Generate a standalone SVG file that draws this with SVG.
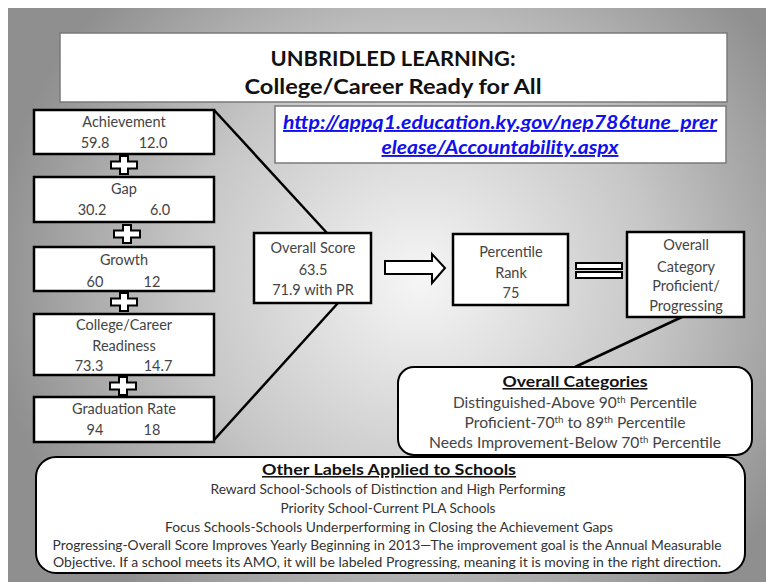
<svg xmlns="http://www.w3.org/2000/svg" width="766" height="582" viewBox="0 0 766 582">
<defs>
<radialGradient id="bg" gradientUnits="userSpaceOnUse" cx="420" cy="280" r="430" gradientTransform="translate(420 280) scale(1 0.95) translate(-420 -280)">
<stop offset="0" stop-color="#f6f6f6"/>
<stop offset="0.55" stop-color="#c6c6c6"/>
<stop offset="1" stop-color="#8f8f8f"/>
</radialGradient>
<path id="plus" d="M-4,-9 H4 V-3.5 H13 V3.5 H4 V9 H-4 V3.5 H-13 V-3.5 H-4 Z"/>
</defs>
<style>
.box{fill:#fff;stroke:#000;stroke-width:2.5}
.thin{fill:#fff;stroke:#7a7a7a;stroke-width:1.5}
.rbox{fill:#fff;stroke:#000;stroke-width:2}
.t{font-family:Lato,"Liberation Sans",sans-serif;font-size:14.5px;fill:#444;text-anchor:middle}
.s{font-family:Lato,"Liberation Sans",sans-serif;font-size:13px;fill:#333;text-anchor:middle}
.h{font-family:Lato,"Liberation Sans",sans-serif;font-weight:bold;fill:#111;text-anchor:middle}
.u{text-decoration:underline}
.url{font-family:Lato,"Liberation Sans",sans-serif;font-weight:bold;font-style:italic;font-size:19px;fill:#1010ee;text-anchor:middle;text-decoration:underline}
.ln{stroke:#000;stroke-width:2.5;fill:none}
.pl{fill:#fff;stroke:#000;stroke-width:2}
.sup{font-size:9px}
</style>
<rect x="8" y="8" width="758" height="574" fill="url(#bg)"/>

<g id="connectors">
<line class="ln" x1="214" y1="110" x2="327" y2="233"/>
<line class="ln" x1="338" y1="303" x2="214" y2="440"/>
<line class="ln" x1="682" y1="317" x2="575" y2="367"/>
<path class="pl" d="M385,261 H432 V254 L445,268 L432,283 V274 H385 Z"/>
<rect class="pl" x="576" y="263" width="46" height="6"/>
<rect class="pl" x="576" y="272" width="46" height="6"/>
<use href="#plus" class="pl" x="124" y="165"/>
<use href="#plus" class="pl" x="127" y="234"/>
<use href="#plus" class="pl" x="124" y="302"/>
<use href="#plus" class="pl" x="123" y="386"/>
</g>

<g id="title">
<rect class="thin" x="60" y="33" width="667" height="69"/>
<text class="h" x="393" y="66" font-size="21" textLength="245" lengthAdjust="spacingAndGlyphs">UNBRIDLED LEARNING:</text>
<text class="h" x="393" y="94" font-size="21" textLength="297" lengthAdjust="spacingAndGlyphs">College/Career Ready for All</text>
</g>

<g id="url">
<rect class="thin" x="275" y="106" width="451" height="57"/>
<text class="url" x="500" y="129" textLength="434" lengthAdjust="spacingAndGlyphs">http://appq1.education.ky.gov/nep786tune_prer</text>
<text class="url" x="500" y="154" textLength="237" lengthAdjust="spacingAndGlyphs">elease/Accountability.aspx</text>
</g>

<g id="achievement">
<rect class="box" x="34" y="110" width="180" height="44"/>
<text class="t" x="124" y="127">Achievement</text>
<text class="t" x="95" y="148">59.8</text>
<text class="t" x="153" y="148">12.0</text>
</g>

<g id="gap">
<rect class="box" x="34" y="177" width="180" height="45"/>
<text class="t" x="124" y="194">Gap</text>
<text class="t" x="92" y="215">30.2</text>
<text class="t" x="160" y="215">6.0</text>
</g>

<g id="growth">
<rect class="box" x="34" y="247" width="180" height="44"/>
<text class="t" x="124" y="265">Growth</text>
<text class="t" x="95" y="287">60</text>
<text class="t" x="152" y="287">12</text>
</g>

<g id="ccr">
<rect class="box" x="34" y="314" width="180" height="61"/>
<text class="t" x="124" y="330">College/Career</text>
<text class="t" x="124" y="351">Readiness</text>
<text class="t" x="89" y="371">73.3</text>
<text class="t" x="158" y="371">14.7</text>
</g>

<g id="graduation">
<rect class="box" x="34" y="397" width="180" height="45"/>
<text class="t" x="124" y="414">Graduation Rate</text>
<text class="t" x="95" y="435">94</text>
<text class="t" x="152" y="435">18</text>
</g>

<g id="overall-score">
<rect class="box" x="254" y="233" width="117" height="70"/>
<text class="t" x="313" y="253">Overall Score</text>
<text class="t" x="313" y="275">63.5</text>
<text class="t" x="313" y="295">71.9 with PR</text>
</g>

<g id="percentile">
<rect class="box" x="453" y="234" width="115" height="71"/>
<text class="t" x="511" y="257">Percentile</text>
<text class="t" x="511" y="278">Rank</text>
<text class="t" x="511" y="298">75</text>
</g>

<g id="category">
<rect class="box" x="627" y="232" width="117" height="85"/>
<text class="t" x="686" y="250">Overall</text>
<text class="t" x="686" y="272">Category</text>
<text class="t" x="686" y="291">Proficient/</text>
<text class="t" x="686" y="311">Progressing</text>
</g>

<g id="overall-categories">
<rect class="rbox" x="398" y="367" width="354" height="88" rx="16"/>
<text class="h u" x="575" y="387" font-size="15.5" textLength="145" lengthAdjust="spacingAndGlyphs">Overall Categories</text>
<text class="t" x="575" y="408" textLength="244" lengthAdjust="spacingAndGlyphs">Distinguished-Above  90<tspan class="sup" dy="-5">th</tspan><tspan dy="5"> Percentile</tspan></text>
<text class="t" x="575" y="428" textLength="221" lengthAdjust="spacingAndGlyphs">Proficient-70<tspan class="sup" dy="-5">th</tspan><tspan dy="5">  to 89</tspan><tspan class="sup" dy="-5">th</tspan><tspan dy="5"> Percentile</tspan></text>
<text class="t" x="575" y="448" textLength="292" lengthAdjust="spacingAndGlyphs">Needs Improvement-Below  70<tspan class="sup" dy="-5">th</tspan><tspan dy="5"> Percentile</tspan></text>
</g>

<g id="other-labels">
<rect class="rbox" x="36" y="457" width="709" height="116" rx="20"/>
<text class="h u" x="389" y="475" font-size="15.5" textLength="254" lengthAdjust="spacingAndGlyphs">Other Labels Applied to Schools</text>
<text class="s" x="388" y="494" textLength="355" lengthAdjust="spacingAndGlyphs">Reward School-Schools of Distinction and High Performing</text>
<text class="s" x="388" y="513" textLength="215" lengthAdjust="spacingAndGlyphs">Priority School-Current PLA Schools</text>
<text class="s" x="389" y="532" textLength="448" lengthAdjust="spacingAndGlyphs">Focus Schools-Schools Underperforming in Closing the Achievement Gaps</text>
<text class="s" x="387" y="550" textLength="669" lengthAdjust="spacingAndGlyphs">Progressing-Overall Score Improves Yearly Beginning in 2013—The improvement goal is the Annual Measurable</text>
<text class="s" x="387" y="567" textLength="668" lengthAdjust="spacingAndGlyphs">Objective.  If a school meets its AMO, it will be labeled Progressing, meaning it is moving in the right direction.</text>
</g>
</svg>
